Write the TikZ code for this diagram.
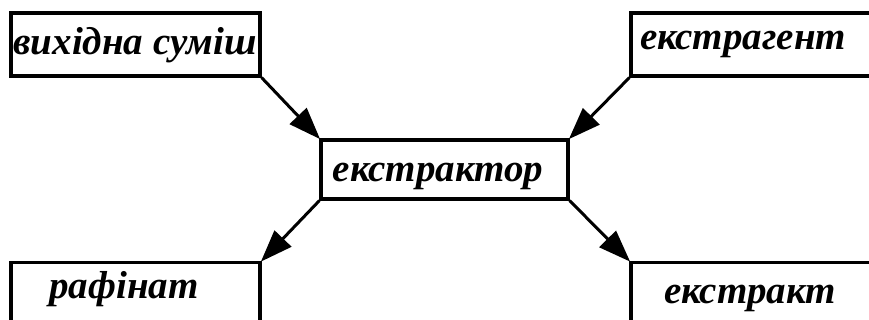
\documentclass[tikz,border=0pt]{standalone}
\usepackage{fontspec}
\setmainfont{Liberation Serif}
\usetikzlibrary{arrows.meta}
\tikzset{
  box/.style={draw=black, line width=3.2pt, fill=white, inner sep=0pt},
  lbl/.style={anchor=base, inner sep=0pt, font=\fontsize{39}{41}\selectfont\bfseries\itshape},
  arr/.style={line width=3pt, -{Triangle[length=32pt, width=23pt]}, shorten >=-1pt}
}
\begin{document}
\begin{tikzpicture}[x=1pt, y=-1pt]
\useasboundingbox (0,0) rectangle (869,320);
\clip (0,0) rectangle (869,320);
\node[box, minimum width=249pt, minimum height=63pt] (b1) at (135.5,44.5) {};
\node[box, minimum width=260pt, minimum height=63pt] (b2) at (761,44.5) {};
\node[box, minimum width=247pt, minimum height=59pt] (b3) at (444.5,169.5) {};
\node[box, minimum width=249pt, minimum height=80pt] (b4) at (135.5,302.5) {};
\node[box, minimum width=260pt, minimum height=80pt] (b5) at (761,302.5) {};
\node[lbl] (t1) at (135,55) {вихідна суміш};
\node[lbl] (t2) at (743,50) {екстрагент};
\node[lbl] (t3) at (438,182) {екстрактор};
\node[lbl] (t4) at (124,298) {рафінат};
\node[lbl] (t5) at (750,303) {екстракт};
\draw[arr] (b1.south east) -- (b3.north west);
\draw[arr] (b2.south west) -- (b3.north east);
\draw[arr] (b3.south west) -- (b4.north east);
\draw[arr] (b3.south east) -- (b5.north west);
\end{tikzpicture}
\end{document}
